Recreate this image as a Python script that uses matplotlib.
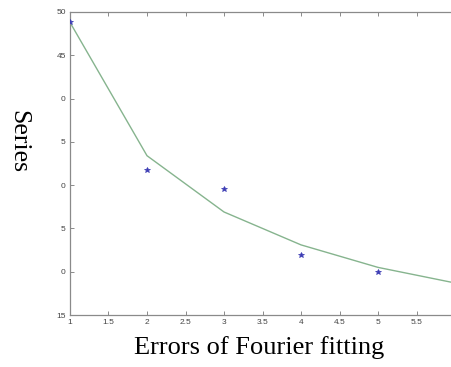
import matplotlib
matplotlib.use("Agg")
import matplotlib.pyplot as plt

# data
x_points = [1, 2, 3, 4, 5]
y_points = [48.85, 31.7, 29.5, 21.9, 20.0]
x_fit = [1, 2, 3, 4, 5, 6]
y_fit = [48.8, 33.4, 26.9, 23.1, 20.5, 18.7]
x_ticks = [1, 1.5, 2, 2.5, 3, 3.5, 4, 4.5, 5, 5.5]
x_ticklabels = ['1', '1.5', '2', '2.5', '3', '3.5', '4', '4.5', '5', '5.5']
y_ticks = [15, 20, 25, 30, 35, 40, 45, 50]
y_ticklabels = ['15', '0', '5', '0', '5', '0', '45', '50']

fig = plt.figure(figsize=(4.52, 3.67), dpi=100)
ax = fig.add_axes([70/452, (367-315)/367, 385/452, (315-12)/367])

ax.plot(x_fit, y_fit, color='#86b48e', lw=1.0, zorder=2)
ax.plot(x_points, y_points, linestyle='none', marker='*', color='#3c3cb4',
        markersize=4, markeredgewidth=0.5, zorder=3)

ax.set_xlim(1, 6)
ax.set_ylim(15, 50)
ax.set_xticks(x_ticks)
ax.set_xticklabels(x_ticklabels)
ax.set_yticks(y_ticks)
ax.set_yticklabels(y_ticklabels)

for s in ax.spines.values():
    s.set_color('#8a8a8a')
    s.set_linewidth(0.9)
ax.tick_params(direction='in', length=3, width=0.7, color='#8a8a8a',
               labelsize=6, labelcolor='#444444', top=True, right=True, pad=3,
               labelfontfamily='Liberation Sans')

fig.text(18/452, 1-142/367, 'Series', rotation=-90, ha='center', va='center',
         family='Liberation Serif', fontsize=18.5)
fig.text(259/452, 1-348/367, 'Errors of Fourier fitting', ha='center',
         va='center', family='Liberation Serif', fontsize=19)

fig.savefig('out.png', dpi=100)
